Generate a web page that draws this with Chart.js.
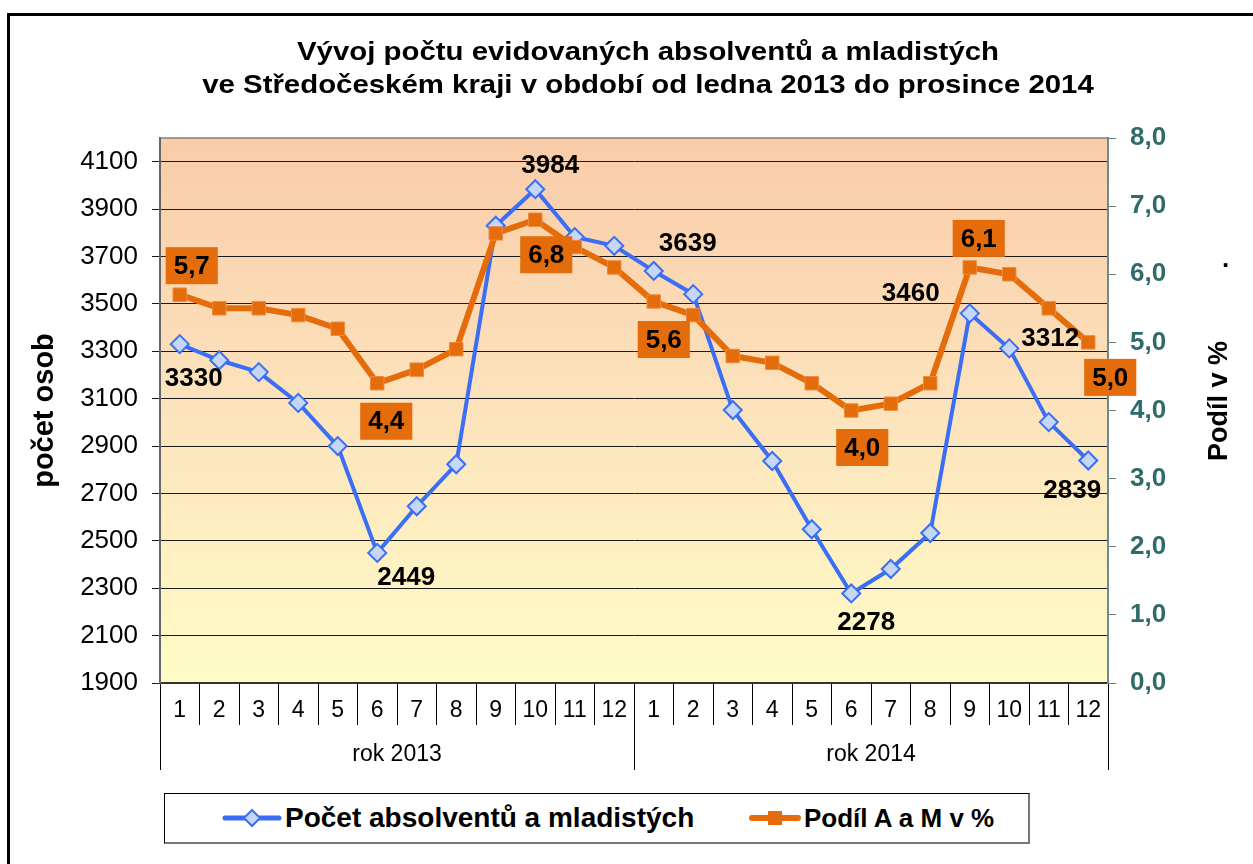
<!DOCTYPE html>
<html lang="cs">
<head>
<meta charset="utf-8">
<title>Vývoj počtu evidovaných absolventů a mladistých</title>
<script src="https://cdn.jsdelivr.net/npm/chart.js@4.4.1/dist/chart.umd.min.js"></script>
<style>
  html, body { margin: 0; padding: 0; background: #fff; }
  body { width: 1253px; height: 864px; position: relative; overflow: hidden; font-family: "Liberation Sans", Arial, sans-serif; }
  #frame { position: absolute; left: 7px; top: 13px; right: -10px; bottom: -10px; border-left: 3px solid #000; border-top: 3px solid #000; }
  #chart { position: absolute; left: 0; top: 0; }
  .chart-title { position: absolute; left: 148px; top: 35px; width: 1000px; text-align: center; font-weight: bold; font-size: 26px; line-height: 33px; color: #000; transform: scaleX(1.13); }
  .right-title { position: absolute; left: 1218px; top: 401px; transform: translate(-50%, -50%) rotate(-90deg); font-weight: bold; font-size: 27px; white-space: nowrap; color: #000; }
  .stray-dot { position: absolute; left: 1222px; top: 245px; font-weight: bold; font-size: 26px; line-height: 26px; color: #000; }
  .legend-box { position: absolute; left: 164px; top: 793px; width: 863px; height: 48px; border: 1px solid #000; border-right-color: #777; border-bottom-color: #777; border-right-width: 2px; border-bottom-width: 2px; background: #fff; }
  .legend-item { position: absolute; top: 0; height: 48px; display: flex; align-items: center; font-weight: bold; font-size: 26px; white-space: nowrap; }
  .legend-item svg { margin-right: 3px; }
</style>
</head>
<body>
<div id="frame"></div>
<canvas id="chart" width="1253" height="864"></canvas>
<div class="chart-title">Vývoj počtu evidovaných absolventů a mladistých<br>ve Středočeském kraji v období od ledna 2013 do prosince 2014</div>
<div class="right-title">Podíl v %</div>
<div class="stray-dot">.</div>
<div class="legend-box">
  <div class="legend-item" style="left:57px; font-size:28px">
    <svg width="60" height="24" viewBox="0 0 60 24"><line x1="3" y1="12" x2="57" y2="12" stroke="#3A6EF5" stroke-width="5" stroke-linecap="round"/><path d="M30 4 L38 12 L30 20 L22 12 Z" fill="#C5D6F6" stroke="#3A6EF5" stroke-width="2"/></svg>Počet absolventů a mladistých
  </div>
  <div class="legend-item" style="left:584px">
    <svg width="52" height="24" viewBox="0 0 52 24"><line x1="3" y1="12" x2="49" y2="12" stroke="#E46C0A" stroke-width="6" stroke-linecap="round"/><rect x="19" y="5" width="14" height="14" fill="#E46C0A"/></svg>Podíl A a M v %
  </div>
</div>

<script>
// --- data ---
const months = ['1','2','3','4','5','6','7','8','9','10','11','12',
                '1','2','3','4','5','6','7','8','9','10','11','12'];
const years = ['rok 2013', 'rok 2014'];

// number of graduates and juveniles (left axis)
const pocet = [3330, 3262, 3212, 3082, 2900, 2449, 2646, 2823, 3830, 3984, 3782, 3745,
               3639, 3541, 3052, 2837, 2549, 2278, 2381, 2533, 3460, 3312, 3001, 2839];
// share A and M in % (right axis)
const podil = [5.7, 5.5, 5.5, 5.4, 5.2, 4.4, 4.6, 4.9, 6.6, 6.8, 6.4, 6.1,
               5.6, 5.4, 4.8, 4.7, 4.4, 4.0, 4.1, 4.4, 6.1, 6.0, 5.5, 5.0];

const leftTicks = [1900, 2100, 2300, 2500, 2700, 2900, 3100, 3300, 3500, 3700, 3900, 4100];
const rightTicks = [0, 1, 2, 3, 4, 5, 6, 7, 8];

// which points get a value label, and where it sits
const pocetLabels = [
  { i: 0, dx: 14, dy: 35 }, { i: 5, dx: 29, dy: 25 }, { i: 9, dx: 15, dy: -23 },
  { i: 12, dx: 34, dy: -27 }, { i: 17, dx: 15, dy: 29 }, { i: 20, dx: -59, dy: -20 },
  { i: 21, dx: 41, dy: -10 }, { i: 23, dx: -16, dy: 30 }
];
const podilLabels = [
  { i: 0, dx: 12, dy: -29 }, { i: 5, dx: 9, dy: 38 }, { i: 9, dx: 11, dy: 35 },
  { i: 12, dx: 10, dy: 38 }, { i: 17, dx: 11, dy: 37 }, { i: 20, dx: 9, dy: -29 },
  { i: 23, dx: 22, dy: 35 }
];

const BLUE = '#3A6EF5';
const ORANGE = '#E46C0A';
const FONT = '"Liberation Sans", Arial, sans-serif';
const fmtCz = v => v.toFixed(1).replace('.', ',');

// plot background gradient + top border
const plotBackground = {
  id: 'plotBackground',
  beforeDraw(chart) {
    const { ctx, chartArea: a } = chart;
    const g = ctx.createLinearGradient(0, a.top, 0, a.bottom);
    g.addColorStop(0, '#F9CCA9');
    g.addColorStop(0.5, '#FCE3BC');
    g.addColorStop(1, '#FFFCC6');
    ctx.save();
    ctx.fillStyle = g;
    ctx.fillRect(a.left, a.top, a.right - a.left, a.bottom - a.top);
    ctx.strokeStyle = '#808080';
    ctx.lineWidth = 1.5;
    ctx.beginPath();
    ctx.moveTo(a.left, a.top);
    ctx.lineTo(a.right, a.top);
    ctx.stroke();
    ctx.restore();
  }
};

// value labels: plain for the count, orange boxes for the share
const valueLabels = {
  id: 'valueLabels',
  afterDatasetsDraw(chart) {
    const ctx = chart.ctx;
    const metaOrange = chart.getDatasetMeta(0);
    const metaBlue = chart.getDatasetMeta(1);
    ctx.save();
    ctx.font = 'bold 26px ' + FONT;
    ctx.textAlign = 'center';
    ctx.textBaseline = 'middle';

    pocetLabels.forEach(l => {
      const p = metaBlue.data[l.i];
      ctx.fillStyle = '#000';
      ctx.fillText(String(pocet[l.i]), p.x + l.dx, p.y + l.dy);
    });

    podilLabels.forEach(l => {
      const p = metaOrange.data[l.i];
      const txt = fmtCz(podil[l.i]);
      const w = ctx.measureText(txt).width + 16;
      const h = 37;
      const cx = p.x + l.dx, cy = p.y + l.dy;
      ctx.fillStyle = ORANGE;
      ctx.fillRect(cx - w / 2, cy - h / 2, w, h);
      ctx.fillStyle = '#000';
      ctx.fillText(txt, cx, cy + 1);
    });
    ctx.restore();
  }
};

new Chart(document.getElementById('chart'), {
  type: 'line',
  data: {
    labels: months,
    datasets: [
      {
        label: 'Podíl A a M v %',
        data: podil,
        yAxisID: 'y1',
        xAxisID: 'x',
        order: 0,
        borderColor: ORANGE,
        borderWidth: 6,
        pointStyle: 'rect',
        pointRadius: 9.5,
        pointBackgroundColor: ORANGE,
        pointBorderColor: '#EE8A3C',
        pointBorderWidth: 1,
        tension: 0
      },
      {
        label: 'Počet absolventů a mladistých',
        data: pocet,
        yAxisID: 'y',
        xAxisID: 'x',
        order: 1,
        borderColor: BLUE,
        borderWidth: 4,
        pointStyle: 'rectRot',
        pointRadius: 9,
        pointBackgroundColor: '#C5D6F6',
        pointBorderColor: BLUE,
        pointBorderWidth: 2,
        tension: 0
      }
    ]
  },
  options: {
    responsive: false,
    animation: false,
    layout: { padding: { left: 22, right: 0, top: 138, bottom: 94 } },
    plugins: {
      legend: { display: false },
      title: { display: false },
      tooltip: { enabled: false }
    },
    scales: {
      x: {
        type: 'category',
        position: 'bottom',
        weight: 0,
        offset: true,
        grid: { offset: true, drawOnChartArea: false, tickLength: 42, color: '#000', lineWidth: 1 },
        border: { display: true, color: '#333', width: 2 },
        ticks: { color: '#000', font: { family: FONT, size: 23 }, padding: -28, maxRotation: 0, autoSkip: false },
        afterFit(s) { s.height = 42; }
      },
      x2: {
        type: 'category',
        position: 'bottom',
        weight: 1,
        labels: years,
        offset: true,
        grid: { offset: true, drawOnChartArea: false, tickLength: 45, color: '#000', lineWidth: 1 },
        border: { display: false },
        ticks: { color: '#000', font: { family: FONT, size: 23 }, padding: -29, maxRotation: 0 },
        afterFit(s) { s.height = 45; }
      },
      y: {
        position: 'left',
        min: 1900,
        max: 4200,
        afterBuildTicks(s) { s.ticks = leftTicks.map(v => ({ value: v })); },
        grid: { color: '#1a1a1a', lineWidth: 1, tickLength: 8 },
        border: { display: true, color: '#666', width: 2 },
        ticks: { color: '#000', font: { family: FONT, size: 26 }, padding: 14, callback: v => String(v) },
        title: { display: true, text: 'počet osob', color: '#000', font: { family: FONT, size: 29, weight: 'bold' }, padding: { top: 6, bottom: 0 } },
        afterFit(s) { s.width = 138; }
      },
      y1: {
        position: 'right',
        min: 0,
        max: 8,
        afterBuildTicks(s) { s.ticks = rightTicks.map(v => ({ value: v })); },
        grid: { drawOnChartArea: false, color: '#5C8080', tickLength: 8 },
        border: { display: true, color: '#6E8A8A', width: 2 },
        ticks: { color: '#2F6B6B', font: { family: FONT, size: 26, weight: 'bold' }, padding: 14, callback: v => fmtCz(v) },
        afterFit(s) { s.width = 145; }
      }
    }
  },
  plugins: [plotBackground, valueLabels]
});
</script>
</body>
</html>
